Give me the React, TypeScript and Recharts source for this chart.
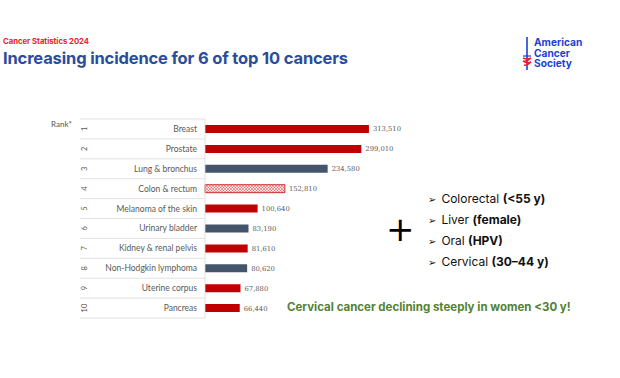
import { BarChart, Bar, XAxis, YAxis, Cell, LabelList } from 'recharts';

const categories = [
  'Breast',
  'Prostate',
  'Lung & bronchus',
  'Colon & rectum',
  'Melanoma of the skin',
  'Urinary bladder',
  'Kidney & renal pelvis',
  'Non-Hodgkin lymphoma',
  'Uterine corpus',
  'Pancreas',
];
const newCases = [313510, 299010, 234580, 152810, 100640, 83190, 81610, 80620, 67880, 66440];
// trend kind: up = increasing incidence, flat = stable/declining, mixed = hatched colon & rectum
const trend = ['up', 'up', 'flat', 'mixed', 'up', 'flat', 'up', 'flat', 'up', 'up'];
const bullets = [
  ['Colorectal', '(<55 y)'],
  ['Liver', '(female)'],
  ['Oral', '(HPV)'],
  ['Cervical', '(30–44 y)'],
];
const logoLines = ['American', 'Cancer', 'Society'];

const RED = '#c00000';
const NAVY = '#44546a';
const GRAY = '#595959';
const AXIS_X = 205;
const TABLE_LEFT = 80;
const TOP = 119;
const BOTTOM = 318;
const ROW = (BOTTOM - TOP) / categories.length;

const data = categories.map((name, i) => ({ name, rank: i + 1, value: newCases[i], kind: trend[i] }));

const fillFor = (k: string) => (k === 'up' ? RED : k === 'flat' ? NAVY : 'url(#hatch)');

function RowTick(props: any) {
  const { y, payload, index } = props;
  const rank = index + 1;
  return (
    <g>
      <line x1={TABLE_LEFT} x2={AXIS_X} y1={y - ROW / 2} y2={y - ROW / 2} stroke="#d9d9d9" strokeWidth={0.8} />
      {index === categories.length - 1 && (
        <line x1={TABLE_LEFT} x2={AXIS_X} y1={y + ROW / 2} y2={y + ROW / 2} stroke="#d9d9d9" strokeWidth={0.8} />
      )}
      <text
        x={AXIS_X - 8}
        y={y}
        dy={3}
        textAnchor="end"
        fontSize={8.5}
        fontFamily="Lato, 'Liberation Sans', sans-serif"
        fill={GRAY}
      >
        {payload.value}
      </text>
      <text
        x={0}
        y={0}
        transform={`translate(${TABLE_LEFT + 6.5}, ${y}) rotate(-90)`}
        textAnchor="middle"
        fontSize={7.5}
        fontFamily="Lato, 'Liberation Sans', sans-serif"
        fill={GRAY}
      >
        {rank}
      </text>
    </g>
  );
}

export default function App() {
  return (
    <div style={{ position: 'absolute', left: 0, top: 0, width: 620, height: 378, background: '#fff', overflow: 'hidden' }}>
      <div style={{ position: 'absolute', left: 3, top: 37, fontFamily: 'Inter, sans-serif', fontWeight: 700, fontSize: 7.7, color: '#e8202a' }}>
        Cancer Statistics 2024
      </div>
      <div
        style={{
          position: 'absolute',
          left: 3,
          top: 48,
          fontFamily: 'Inter, sans-serif',
          fontWeight: 700,
          fontSize: 16.5,
          color: '#2a4d9b',
          letterSpacing: -0.15,
          whiteSpace: 'nowrap',
        }}
      >
        Increasing incidence for 6 of top 10 cancers
      </div>

      {/* logo */}
      <svg style={{ position: 'absolute', left: 518, top: 34 }} width={20} height={40}>
        <line x1={9} x2={9} y1={3} y2={36} stroke="#1f3fd6" strokeWidth={1.6} />
        <line x1={5} x2={13} y1={22} y2={22} stroke="#1f3fd6" strokeWidth={1.2} />
        <path d="M5 24 Q9 26 13 24 Q9 28 5 27 Q9 30 13 28 Q9 32 6 31" fill="none" stroke="#e8202a" strokeWidth={1.4} />
      </svg>
      {logoLines.map((t, i) => (
        <div
          key={t}
          style={{
            position: 'absolute',
            left: 534,
            top: 37 + i * 10.5,
            fontFamily: 'Inter, sans-serif',
            fontWeight: 700,
            fontSize: 10.2,
            lineHeight: '10px',
            color: '#1f3fd6',
            whiteSpace: 'nowrap',
          }}
        >
          {t}
        </div>
      ))}

      <div style={{ position: 'absolute', left: 51, top: 119, fontFamily: "Lato, sans-serif", fontSize: 8, color: GRAY }}>Rank*</div>

      <BarChart
        width={620}
        height={378}
        data={data}
        layout="vertical"
        margin={{ top: TOP, bottom: 378 - BOTTOM, left: TABLE_LEFT, right: 232 }}
        barCategoryGap={0}
        style={{ position: 'absolute', left: 0, top: 0 }}
      >
        <defs>
          <pattern id="hatch" width={3} height={3} patternUnits="userSpaceOnUse">
            <rect width={3} height={3} fill="#fbe9e9" />
            <path d="M0 0 L3 3 M3 0 L0 3" stroke="#d64545" strokeWidth={0.5} />
          </pattern>
        </defs>
        <XAxis type="number" domain={[0, 350000]} hide />
        <YAxis
          type="category"
          dataKey="name"
          width={AXIS_X - TABLE_LEFT}
          axisLine={{ stroke: '#d9d9d9', strokeWidth: 0.8 }}
          tickLine={false}
          interval={0}
          tick={<RowTick />}
        />
        <Bar dataKey="value" barSize={8} isAnimationActive={false}>
          {data.map((d, i) => (
            <Cell key={i} fill={fillFor(d.kind)} stroke={d.kind === 'mixed' ? RED : 'none'} strokeWidth={0.8} />
          ))}
          <LabelList
            dataKey="value"
            position="right"
            offset={4}
            formatter={(v: any) => Number(v).toLocaleString('en-US')}
            style={{ fontSize: 6.8, fontFamily: "'DejaVu Serif', serif", fill: GRAY }}
          />
        </Bar>
      </BarChart>

      <div style={{ position: 'absolute', left: 386, top: 209, fontFamily: 'DejaVu Sans, sans-serif', fontSize: 34, lineHeight: '40px', color: '#000' }}>+</div>

      {bullets.map(([a, b], i) => (
        <div
          key={a}
          style={{
            position: 'absolute',
            left: 428,
            top: 191 + i * 21,
            fontFamily: 'Inter, sans-serif',
            fontSize: 12,
            color: '#111',
            whiteSpace: 'nowrap',
          }}
        >
          <span style={{ fontFamily: 'DejaVu Sans, sans-serif', fontSize: 10, marginRight: 5 }}>➢</span>
          {a} <b>{b}</b>
        </div>
      ))}

      <div
        style={{
          position: 'absolute',
          left: 287,
          top: 300,
          fontFamily: 'Inter, sans-serif',
          fontWeight: 700,
          fontSize: 11.5,
          color: '#548235',
          whiteSpace: 'nowrap',
        }}
      >
        Cervical cancer declining steeply in women &lt;30 y!
      </div>
    </div>
  );
}
